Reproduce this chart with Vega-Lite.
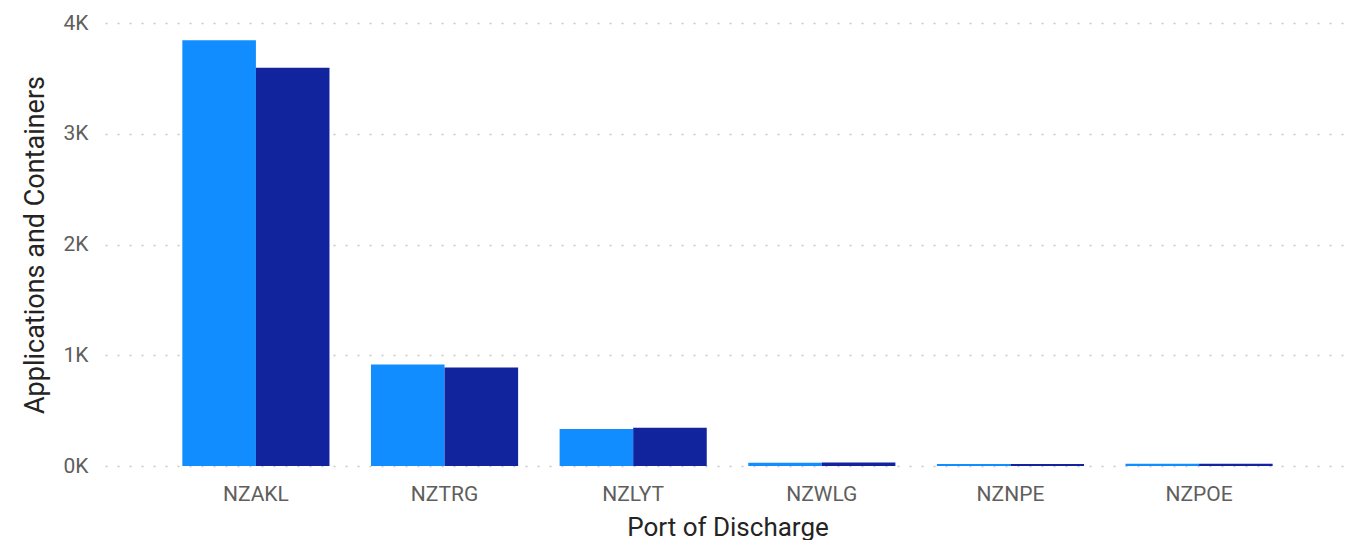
{
  "$schema": "https://vega.github.io/schema/vega-lite/v6.json",
  "autosize": {"type": "none"},
  "width": 1245,
  "height": 443,
  "padding": {"left": 105, "top": 23, "right": 7, "bottom": 74},
  "background": "white",
  "config": {
    "view": {"stroke": null},
    "font": "Roboto"
  },
  "data": {
    "values": [
      {"port": "NZAKL", "measure": "Applications", "value": 3845},
      {"port": "NZAKL", "measure": "Containers", "value": 3595},
      {"port": "NZTRG", "measure": "Applications", "value": 916},
      {"port": "NZTRG", "measure": "Containers", "value": 889},
      {"port": "NZLYT", "measure": "Applications", "value": 333},
      {"port": "NZLYT", "measure": "Containers", "value": 345},
      {"port": "NZWLG", "measure": "Applications", "value": 30},
      {"port": "NZWLG", "measure": "Containers", "value": 32},
      {"port": "NZNPE", "measure": "Applications", "value": 18},
      {"port": "NZNPE", "measure": "Containers", "value": 18},
      {"port": "NZPOE", "measure": "Applications", "value": 20},
      {"port": "NZPOE", "measure": "Containers", "value": 20}
    ]
  },
  "mark": {"type": "bar"},
  "encoding": {
    "x": {
      "field": "port",
      "type": "nominal",
      "sort": ["NZAKL", "NZTRG", "NZLYT", "NZWLG", "NZNPE", "NZPOE"],
      "scale": {"paddingInner": 0.22, "paddingOuter": 0.41},
      "title": "Port of Discharge",
      "axis": {
        "labelAngle": 0,
        "ticks": false,
        "domain": false,
        "labelFontSize": 21,
        "labelColor": "#605e5c",
        "labelBaseline": "alphabetic",
        "labelPadding": 34,
        "titleFontSize": 26,
        "titleFontWeight": "normal",
        "titleColor": "#252423",
        "titleBaseline": "alphabetic",
        "titleY": 69
      }
    },
    "xOffset": {
      "field": "measure",
      "type": "nominal",
      "sort": ["Applications", "Containers"],
      "scale": {"paddingInner": 0, "paddingOuter": 0}
    },
    "y": {
      "field": "value",
      "type": "quantitative",
      "scale": {"domain": [0, 4000]},
      "title": "Applications and Containers",
      "axis": {
        "values": [0, 1000, 2000, 3000, 4000],
        "labelExpr": "(datum.value / 1000) + 'K'",
        "ticks": false,
        "domain": false,
        "labelFontSize": 21,
        "labelColor": "#605e5c",
        "labelPadding": 17,
        "gridDash": [2, 10],
        "gridColor": "#c8c8c8",
        "gridWidth": 1.5,
        "titleFontSize": 27,
        "titleFontWeight": "normal",
        "titleColor": "#252423",
        "titleX": -70,
        "titleY": 221.5,
        "titleBaseline": "middle",
        "titleAlign": "center"
      }
    },
    "color": {
      "field": "measure",
      "type": "nominal",
      "scale": {"domain": ["Applications", "Containers"], "range": ["#118DFF", "#12239E"]},
      "legend": null
    }
  }
}
